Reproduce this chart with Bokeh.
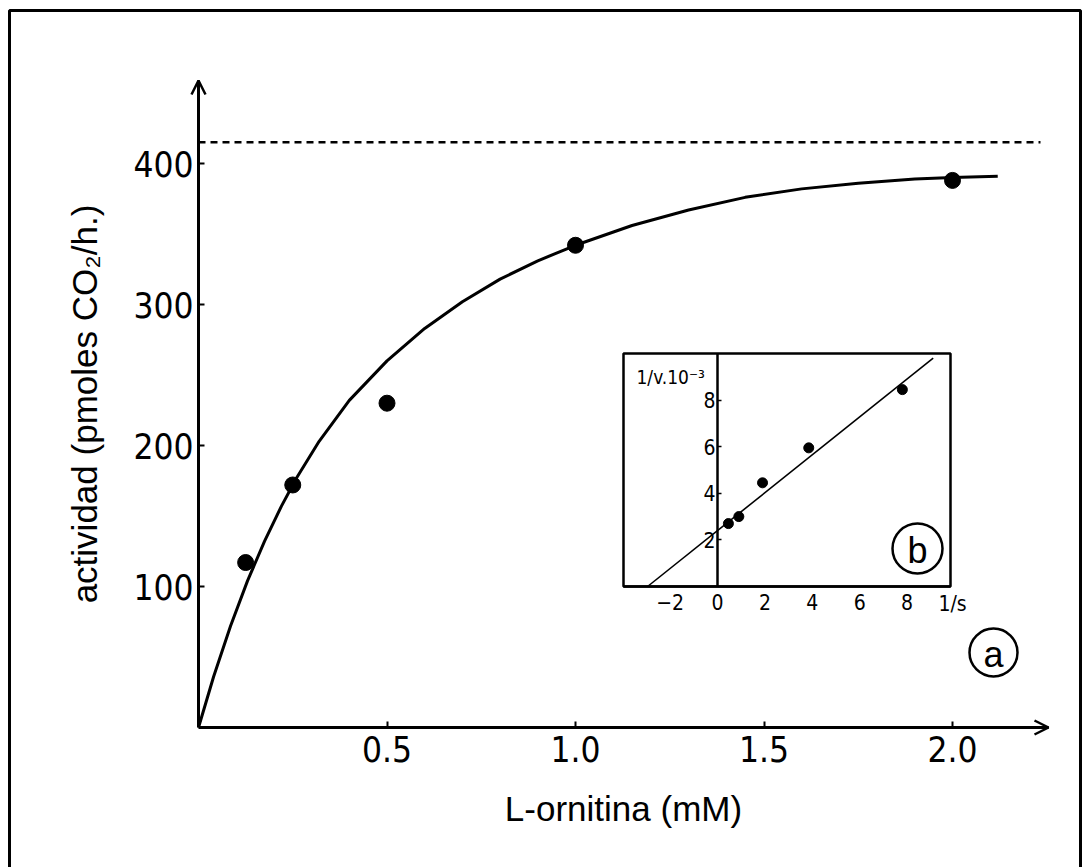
from bokeh.plotting import figure
from bokeh.models import (Range1d, LinearAxis, FixedTicker, Arrow, OpenHead,
                          PrintfTickFormatter)
from bokeh.embed import file_html
from bokeh.resources import INLINE
from bokeh.core.properties import value

# ---------------- data ----------------
conc_mM = [0.125, 0.25, 0.5, 1.0, 2.0]
activity = [117, 172, 230, 342, 388]
curve_conc = [0, 0.04, 0.085, 0.13, 0.175, 0.22, 0.26, 0.32, 0.40, 0.50, 0.60,
              0.70, 0.80, 0.90, 1.00, 1.15, 1.30, 1.45, 1.60, 1.75, 1.90, 2.00, 2.12]
curve_act = [0, 36, 72, 104, 132, 157, 177, 203, 232, 260, 283,
             302, 318, 331, 342, 356, 367, 376, 382, 386, 389, 390, 391]
vmax_level = 415

inv_s = [0.46, 0.9, 1.9, 3.85, 7.8]
inv_v = [2.7, 3.0, 4.45, 5.95, 8.45]
fit_inv_s = [-2.95, 9.1]
fit_inv_v = [0.0, 9.8]

main_x_ticks = [0.5, 1.0, 1.5, 2.0]
main_y_ticks = [100, 200, 300, 400]
inset_x_ticks = [-2, 0, 2, 4, 6, 8]
inset_y_ticks = [2, 4, 6, 8]

# ---------------- layout calibration ----------------
W, H = 1087, 867
X0, PXX = 198.0, 377.0     # pixel of conc=0, pixels per mM
Y0, PXY = 727.0, 1.41      # pixel of activity=0, pixels per unit
IX0, PXIX = 717.0, 23.7    # inset
IY0, PXIY = 586.0, 23.3

def mx(px): return (px - X0) / PXX
def my(py): return (Y0 - py) / PXY
def ix(px): return (px - IX0) / PXIX
def iy(py): return (IY0 - py) / PXIY

x_top = mx(1048)
y_top = my(80)

FONT_N = "DejaVu Sans Condensed, Roboto, sans-serif"
FONT = "Liberation Sans"

p = figure(width=W, height=H, output_backend="svg", toolbar_location=None,
           x_range=Range1d(mx(0), mx(W)), y_range=Range1d(my(H), my(0)),
           x_axis_type=None, y_axis_type=None, min_border=0)
p.outline_line_color = None
p.background_fill_color = "white"
p.border_fill_color = "white"
p.extra_x_ranges = {"ix": Range1d(ix(0), ix(W))}
p.extra_y_ranges = {"iy": Range1d(iy(H), iy(0))}

# outer frame
p.line(x=[mx(9), mx(9), mx(1080), mx(1080)], y=[my(H + 5), my(10), my(10), my(H + 5)],
       line_color="black", line_width=3)

# ---------------- main axes ----------------
yax = LinearAxis(fixed_location=0, bounds=(0, y_top), ticker=FixedTicker(ticks=main_y_ticks),
                 axis_label="actividad (pmoles CO₂/h.)")
xax = LinearAxis(fixed_location=0, bounds=(0, x_top), ticker=FixedTicker(ticks=main_x_ticks),
                 formatter=PrintfTickFormatter(format="%.1f"), axis_label="L-ornitina (mM)")
for ax in (yax, xax):
    ax.axis_line_width = 3
    ax.axis_line_color = "black"
    ax.major_tick_in = 6
    ax.major_tick_out = 0
    ax.major_tick_line_width = 2
    ax.minor_tick_line_color = None
    ax.major_label_text_font = FONT_N
    ax.major_label_text_font_size = "35px"
    ax.major_label_text_color = "black"
    ax.axis_label_text_font = FONT
    ax.axis_label_text_font_style = "normal"
    ax.axis_label_text_font_size = "35px"
    ax.axis_label_text_color = "black"
yax.major_label_standoff = 5
yax.axis_label_standoff = 26
xax.major_label_standoff = 8
xax.axis_label_standoff = 24
p.add_layout(yax, "left")
p.add_layout(xax, "below")

p.add_layout(Arrow(end=OpenHead(size=14, line_width=2.5), x_start=0, y_start=y_top - 10,
                   x_end=0, y_end=y_top, line_width=3))
p.add_layout(Arrow(end=OpenHead(size=14, line_width=2.5), x_start=x_top - 0.03, y_start=0,
                   x_end=x_top, y_end=0, line_width=3))

# Vmax dashed line
p.line(x=[0, mx(1040)], y=[vmax_level, vmax_level], line_color="black", line_width=2.5,
       line_dash="7 5")

# curve and points
p.line(x=curve_conc, y=curve_act, line_color="black", line_width=3)
p.scatter(x=conc_mM, y=activity, size=16, marker="circle", fill_color="black", line_color="black")

# (a) label
p.scatter(x=[mx(993)], y=[my(652)], size=48, marker="circle", fill_color=None,
          line_color="black", line_width=2.5)
p.text(x=[mx(993)], y=[my(654)], text=["a"], text_font=value(FONT), text_font_size="36px",
       text_align="center", text_baseline="middle")

# ---------------- inset (Lineweaver-Burk) ----------------
p.quad(left=[ix(623)], right=[ix(950)], bottom=[0], top=[iy(353)], fill_color="white",
       line_color="black", line_width=2.5, x_range_name="ix", y_range_name="iy")

iyax = LinearAxis(x_range_name="ix", y_range_name="iy", fixed_location=0,
                  bounds=(0, iy(353)), ticker=FixedTicker(ticks=inset_y_ticks))
ixax = LinearAxis(x_range_name="ix", y_range_name="iy", fixed_location=0,
                  bounds=(ix(623), ix(950)), ticker=FixedTicker(ticks=inset_x_ticks))
for ax in (iyax, ixax):
    ax.axis_line_width = 2.5
    ax.major_tick_out = 0
    ax.major_tick_line_width = 1.5
    ax.minor_tick_line_color = None
    ax.major_label_text_font = FONT_N
    ax.major_label_text_font_size = "21px"
    ax.major_label_text_color = "black"
iyax.major_tick_in = 4
iyax.major_label_standoff = 2
ixax.major_tick_in = 0
ixax.major_label_standoff = 7
p.add_layout(iyax, "left")
p.add_layout(ixax, "below")

p.line(x=fit_inv_s, y=fit_inv_v, line_color="black", line_width=1.6,
       x_range_name="ix", y_range_name="iy")
p.scatter(x=inv_s, y=inv_v, size=10, marker="circle", fill_color="black", line_color="black",
          x_range_name="ix", y_range_name="iy")

p.text(x=[ix(636)], y=[iy(376)], text=["1/v.10⁻³"], text_font=value(FONT_N),
       text_font_size="19px", text_align="left", text_baseline="middle",
       x_range_name="ix", y_range_name="iy")
p.text(x=[ix(952)], y=[iy(603)], text=["1/s"], text_font=value(FONT_N),
       text_font_size="21px", text_align="center", text_baseline="middle",
       x_range_name="ix", y_range_name="iy")

p.scatter(x=[ix(917)], y=[iy(548)], size=50, marker="circle", fill_color=None,
          line_color="black", line_width=2.5, x_range_name="ix", y_range_name="iy")
p.text(x=[ix(917)], y=[iy(550)], text=["b"], text_font=value(FONT), text_font_size="36px",
       text_align="center", text_baseline="middle", x_range_name="ix", y_range_name="iy")

open("out.html", "w").write(file_html(p, INLINE))
